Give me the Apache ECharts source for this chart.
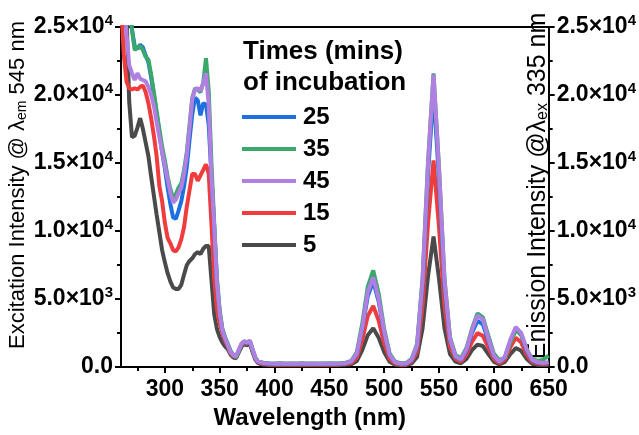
<!DOCTYPE html>
<html><head><meta charset="utf-8">
<script src="https://cdn.jsdelivr.net/npm/echarts@6/dist/echarts.min.js"></script>
<style>html,body{margin:0;padding:0;background:#fff}#c{width:639px;height:435px}</style>
</head><body><div id="c"></div>
<script>
// Wavelength grid (nm)
const wavelengths = [
  260,262.5,265,267.5,270,272.5,275,277.5,280,282.5,285,287.5,290,292.5,295,297.5,300,302.5,305,307.5,
  310,312.5,315,317.5,320,322.5,325,327.5,330,332.5,335,337.5,340,342.5,345,347.5,350,352.5,355,357.5,
  360,362.5,365,367.5,370,372.5,375,377.5,380,382.5,385,
  390,395,400,405,410,415,420,425,430,435,440,445,450,455,460,465,
  470,475,480,485,490,495,500,505,510,515,520,525,530,535,540,545,550,555,560,565,
  570,575,580,585,590,595,600,605,610,615,620,625,630,635,640,645,650
];
// Intensities per incubation time (mins)
const t25 = [
  32000,30000,28000,26500,24800,23600,23400,23700,23500,22900,22400,21300,20000,18600,17200,15800,14600,13200,12000,11000,
  10900,11500,12200,13300,14700,16700,18600,19800,19600,18500,19400,19300,17800,14000,10300,6300,4000,2700,2100,1600,
  1100,850,750,1250,1700,1850,1750,1900,1250,650,380,
  280,250,230,240,230,240,230,240,230,240,230,240,230,240,250,280,
  400,950,2800,5200,6300,4800,2500,850,330,240,250,500,1500,6000,14200,20300,13800,6000,2000,750,
  520,1200,2500,3400,3150,1950,800,380,700,1900,2800,2350,1200,500,330,280,330
];
const t35 = [
  32000,30000,28000,26500,24800,23300,23500,23600,23300,22800,22600,21500,20200,18800,17500,16200,15200,14000,13100,12400,
  12700,13200,13500,14500,15800,17800,19800,20500,20400,20200,20900,22700,20300,15000,10600,6500,4200,2800,2200,1700,
  1200,900,700,1200,1700,1900,1800,1950,1300,700,400,
  320,290,270,280,260,270,260,280,270,260,270,260,280,270,290,320,
  450,1100,3200,5900,7100,5400,2800,1000,400,280,300,600,1700,6500,15100,21600,14700,6500,2200,900,
  650,1400,2800,3950,3650,2300,1000,500,700,1800,2700,2400,1300,600,450,550,850
];
const t45 = [
  31000,28000,24500,22200,21600,21100,21600,21200,21100,21000,20600,20000,19200,18000,16900,15800,14800,13800,12800,12100,
  12300,12800,13200,14200,15600,17600,19700,20400,20500,20300,20900,21600,19300,14000,10300,6200,4000,2700,2100,1600,
  1100,850,800,1300,1750,1900,1800,1950,1300,700,400,
  300,260,240,250,240,250,240,250,240,250,240,250,240,250,260,290,
  420,1000,2900,5500,6600,5000,2600,900,350,250,260,550,1600,6400,15000,21500,14600,6400,2100,800,
  550,1300,2700,3800,3500,2100,850,400,750,2000,2950,2500,1300,550,350,300,350
];
const t15 = [
  27000,23000,21000,20500,20400,20500,20400,20600,20700,20200,19400,18300,17000,15500,13300,12200,10600,9500,9100,8600,
  8500,8800,9400,10300,11800,13000,14200,14200,13700,14100,14500,14900,14200,10500,6500,4300,3200,2500,1900,1500,
  1000,800,700,1200,1600,1800,1700,1850,1200,600,350,
  220,200,190,200,190,200,190,200,190,200,190,200,190,200,210,230,
  300,700,2000,3750,4500,3400,1750,600,250,180,200,400,1150,4500,10600,15200,10300,4500,1500,600,
  400,900,1850,2500,2300,1450,600,280,550,1450,2150,1800,900,380,250,220,250
];
const t5 = [
  30000,27000,26000,19500,16900,17000,17600,18300,17500,16500,15500,14000,12600,11200,9900,8600,7700,6900,6300,5850,
  5750,5750,6050,6800,7500,7800,8000,8300,8450,8300,8700,8900,8900,6400,3900,2800,2200,1800,1500,1300,
  900,700,650,1100,1500,1700,1600,1750,1100,550,300,
  170,150,140,150,140,150,140,150,140,150,140,150,140,150,160,170,
  200,450,1250,2350,2850,2150,1100,400,180,130,140,270,750,2850,6700,9600,6500,2850,950,400,
  280,600,1250,1650,1550,950,400,200,380,950,1400,1200,600,250,170,150,170
];
const xTickValues = [300,350,400,450,500,550,600,650];
const xMinorTickValues = [275,325,375,425,475,525,575,625];
const legendOrder = ['25','35','45','15','5'];

const FONT = "'Liberation Sans', Arial, Helvetica, sans-serif";
const seriesDefs = [
  {name:'5',  data:t5,  color:'#4a4a4a'},
  {name:'15', data:t15, color:'#f03c3c'},
  {name:'25', data:t25, color:'#1e6fe0'},
  {name:'35', data:t35, color:'#3aa86b'},
  {name:'45', data:t45, color:'#b07fe2'}
];

function sciLabel(v){
  if (v === 0) return '{b|0.0}';
  const e = Math.floor(Math.log10(v) + 1e-9);
  const m = (v / Math.pow(10, e)).toFixed(1);
  return '{b|' + m + '×10}{s|' + e + '}';
}
const labelRich = {
  b:{fontSize:23,fontWeight:'bold',fontFamily:FONT,color:'#000',lineHeight:27},
  s:{fontSize:15,fontWeight:'bold',fontFamily:FONT,color:'#000',verticalAlign:'top',lineHeight:15}
};
function yAxisDef(pos){
  return {
    type:'value', min:0, max:25000, interval:5000, position:pos,
    axisLine:{show:true,lineStyle:{color:'#000',width:2}},
    axisTick:{show:true,inside:false,length:6,lineStyle:{color:'#000',width:2}},
    minorTick:{show:true,splitNumber:2,length:4,lineStyle:{color:'#000',width:2}},
    splitLine:{show:false}, minorSplitLine:{show:false},
    axisLabel:{formatter:sciLabel,rich:labelRich,margin:8}
  };
}

const chart = echarts.init(document.getElementById('c'), null, {renderer:'canvas'});
chart.setOption({
  animation:false,
  backgroundColor:'#fff',
  grid:{left:121,right:88,top:27,bottom:62,containLabel:false},
  title:{text:'Times (mins)\nof incubation',left:243,top:36,padding:0,
    textStyle:{fontSize:26,fontWeight:'bold',fontFamily:FONT,color:'#000',lineHeight:31}},
  legend:{orient:'vertical',left:242,top:105,padding:0,itemWidth:54,itemHeight:4,itemGap:8,icon:'rect',
    data:legendOrder, selectedMode:false,
    textStyle:{fontSize:24,fontWeight:'bold',fontFamily:FONT,color:'#000',lineHeight:24,padding:[0,0,0,2]}},
  xAxis:[
    {type:'value',min:260,max:650,position:'bottom',
      axisLine:{show:true,onZero:false,lineStyle:{color:'#000',width:2}},
      axisTick:{show:true,inside:false,length:6,customValues:xTickValues,lineStyle:{color:'#000',width:2}},
      axisLabel:{customValues:xTickValues,fontSize:23,fontWeight:'bold',fontFamily:FONT,color:'#000',margin:11},
      splitLine:{show:false},
      name:'Wavelength (nm)',nameLocation:'middle',nameGap:35,
      nameTextStyle:{fontSize:24,fontWeight:'bold',fontFamily:FONT,color:'#000',padding:[0,50,0,0]}},
    {type:'value',min:260,max:650,position:'bottom',
      axisLine:{show:false,onZero:false},
      axisTick:{show:true,inside:false,length:4,customValues:xMinorTickValues,lineStyle:{color:'#000',width:2}},
      axisLabel:{show:false},splitLine:{show:false}},
    {type:'value',min:260,max:650,position:'top',
      axisLine:{show:true,onZero:false,lineStyle:{color:'#000',width:2}},
      axisTick:{show:false},axisLabel:{show:false},splitLine:{show:false}}
  ],
  yAxis:[yAxisDef('left'), yAxisDef('right')],
  graphic:[
    {type:'text',x:18,y:185,rotation:Math.PI/2,silent:true,
      style:{text:'Excitation Intensity @ λ{sub|em} 545 nm',fontSize:22,fontFamily:FONT,fill:'#000',
        align:'center',verticalAlign:'middle',
        rich:{sub:{fontSize:14,fontFamily:FONT,fill:'#000',verticalAlign:'bottom'}}}},
    {type:'text',x:538,y:186,rotation:Math.PI/2,silent:true,
      style:{text:'Enission Intensity @λ{sub|ex} 335 nm',fontSize:25,fontFamily:FONT,fill:'#000',
        align:'center',verticalAlign:'middle',
        rich:{sub:{fontSize:16,fontFamily:FONT,fill:'#000',verticalAlign:'bottom'}}}}
  ],
  series: seriesDefs.map(s => ({
    name:s.name, type:'line', xAxisIndex:0, yAxisIndex:0,
    data: wavelengths.map((w,i) => [w, s.data[i]]),
    showSymbol:false, symbol:'none', clip:true,
    lineStyle:{color:s.color,width:4}, itemStyle:{color:s.color},
    emphasis:{disabled:true}
  }))
});
</script>
</body></html>
